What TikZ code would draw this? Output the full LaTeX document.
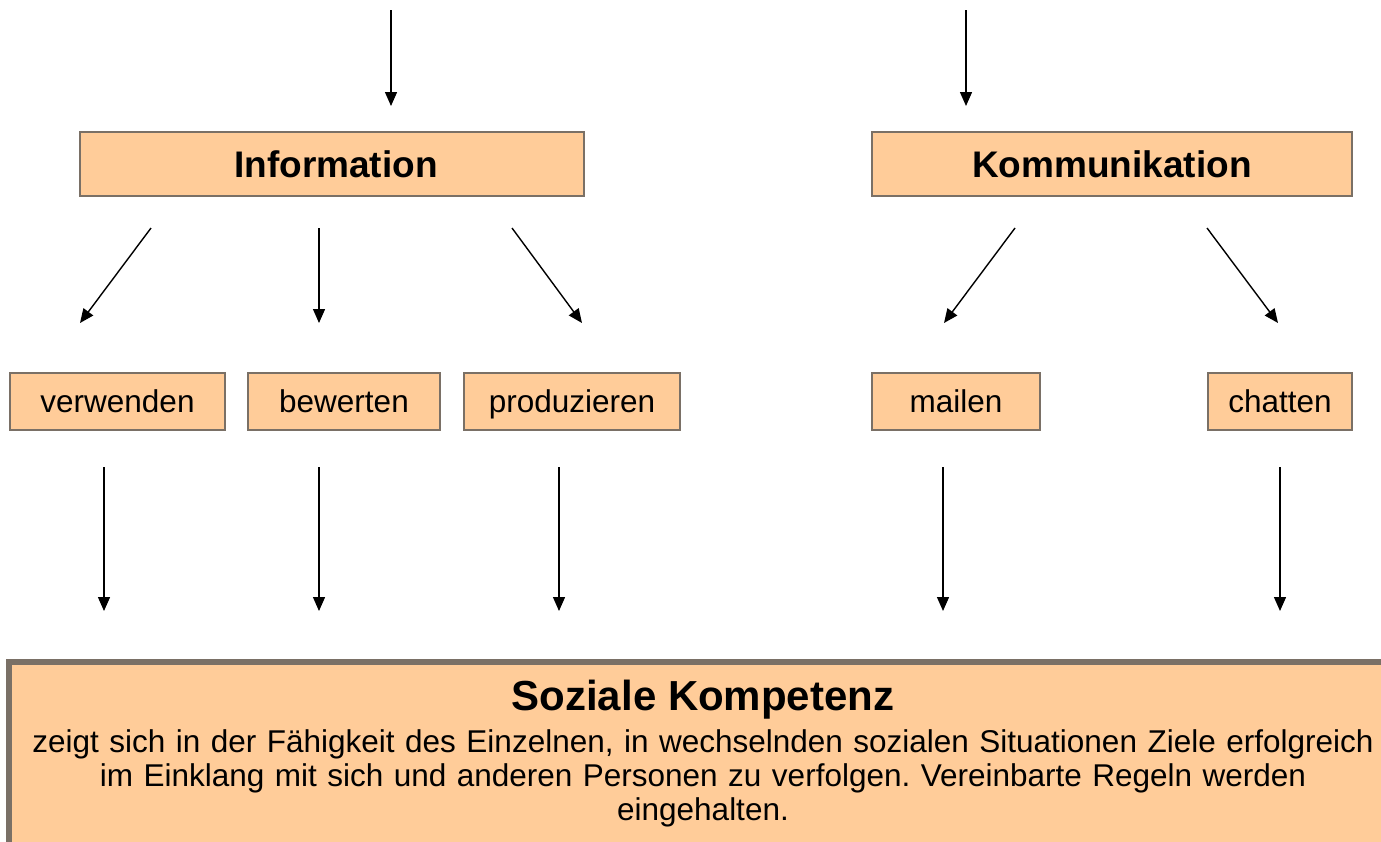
\documentclass[tikz,border=0pt]{standalone}
\usepackage{fontspec}
\setmainfont{Liberation Sans}
\usetikzlibrary{arrows.meta}
\definecolor{boxfill}{HTML}{FFCC99}
\definecolor{boxline}{HTML}{7A7066}
\tikzset{
  box/.style={draw=boxline, line width=2pt, fill=boxfill, inner sep=0pt, anchor=north west},
  small/.style={box, minimum height=57pt, font=\fontsize{31.5}{36}\selectfont, text height=26pt, text depth=4pt},
  bigtext/.style={font=\fontsize{37}{44}\selectfont\bfseries, text height=31pt, text depth=4pt},
  arr/.style={line width=1.4pt, -{Triangle[length=14pt,width=12pt]}},
}
\begin{document}
\frenchspacing
\begin{tikzpicture}[x=1pt,y=-1pt]
\useasboundingbox (0,0) rectangle (1381,841);
% boxes
\node[box, minimum width=504pt, minimum height=64pt] (info) at (79,131) {};
\node[bigtext] (infot) at ([xshift=4pt]info.center) {Information};
\node[box, minimum width=480pt, minimum height=64pt] (komm) at (871,131) {};
\node[bigtext] (kommt) at (komm.center) {Kommunikation};
\node[small, minimum width=215pt] (verw) at (9,372) {verwenden};
\node[small, minimum width=192pt] (bew) at (247,372) {bewerten};
\node[small, minimum width=216pt] (prod) at (463,372) {produzieren};
\node[small, minimum width=168pt] (mail) at (871,372) {mailen};
\node[small, minimum width=144pt] (chat) at (1207,372) {chatten};
\node[box, line width=6pt, minimum width=1400pt, minimum height=200pt] (soz) at (6,659) {};
\node[font=\fontsize{42}{48}\selectfont\bfseries] (sozt) at (703,700) {Soziale Kompetenz};
\node[font=\fontsize{31.5}{34}\selectfont, align=center, text width=1380pt] (sozb) at (703,778) {zeigt sich in der Fähigkeit des Einzelnen, in wechselnden sozialen Situationen Ziele erfolgreich\\ im Einklang mit sich und anderen Personen zu verfolgen. Vereinbarte Regeln werden\\ eingehalten.};
% arrow coordinates
\coordinate (t1) at (391,10); \coordinate (t1e) at (391,106);
\coordinate (t2) at (966,10); \coordinate (t2e) at (966,106);
\coordinate (a1) at (151,228); \coordinate (a1e) at (80,323);
\coordinate (a2) at (319,228); \coordinate (a2e) at (319,323);
\coordinate (a3) at (512,228); \coordinate (a3e) at (582,323);
\coordinate (b1) at (1015,228); \coordinate (b1e) at (944,323);
\coordinate (b2) at (1207,228); \coordinate (b2e) at (1278,323);
\coordinate (d1) at (104,467); \coordinate (d1e) at (104,611);
\coordinate (d2) at (319,467); \coordinate (d2e) at (319,611);
\coordinate (d3) at (559,467); \coordinate (d3e) at (559,611);
\coordinate (d4) at (943,467); \coordinate (d4e) at (943,611);
\coordinate (d5) at (1280,467); \coordinate (d5e) at (1280,611);
\foreach \s in {t1,t2,a1,a2,a3,b1,b2,d1,d2,d3,d4,d5} \draw[arr] (\s) -- (\s e);
\end{tikzpicture}
\end{document}
